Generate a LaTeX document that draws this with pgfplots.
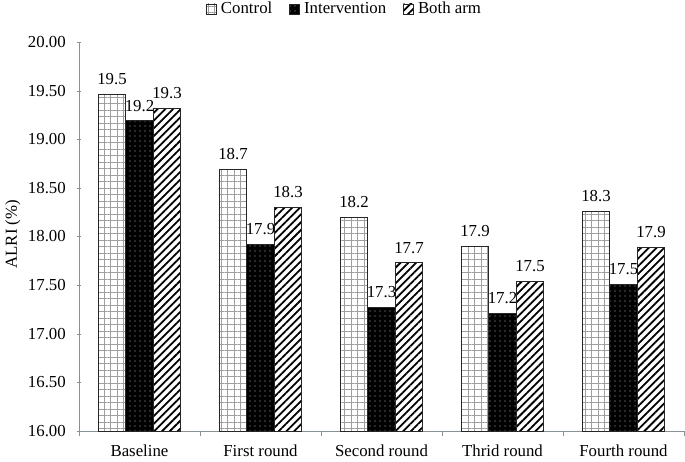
\documentclass[border=0pt]{standalone}
\usepackage{pgfplots}
\pgfplotsset{compat=1.18}
\usepackage{fontspec}
\setmainfont{Liberation Serif}
\usetikzlibrary{patterns.meta}
\definecolor{axgray}{RGB}{135,145,150}
\begin{document}
\fontsize{16.8bp}{20bp}\selectfont
\begin{tikzpicture}
\begin{axis}[
  name=ax,
  scale only axis,
  width=605bp, height=389bp,
  ymin=16, ymax=20,
  ytick={16,16.5,...,20},
  xmin=-0.5, xmax=4.5,
  xtick={0,1,2,3,4},
  xticklabels={Baseline,First round,Second round,Thrid round,Fourth round},
  minor xtick={-0.5,0.5,1.5,2.5,3.5,4.5},
  major x tick style={draw=none},
  minor x tick style={axgray},
  tick align=outside,
  major tick length=4bp,
  minor tick length=5bp,
  axis lines=left,
  axis line style={-, axgray, line width=0.8pt},
  ytick style={axgray},
  xticklabel style={anchor=base, inner sep=0pt},
  xticklabel shift=21.5bp,
  yticklabel style={anchor=east, inner sep=0pt, /pgf/number format/fixed, /pgf/number format/fixed zerofill, /pgf/number format/precision=2, /pgf/number format/assume math mode=true},
  yticklabel shift=11bp,
  ylabel={ALRI (\%)},
  every axis y label/.style={at={(axis description cs:-0.1025,0.506)}, anchor=base, rotate=90, inner sep=0pt},
  ybar,
  bar width=0.227,
  nodes near coords,
  nodes near coords style={/pgf/number format/fixed, /pgf/number format/fixed zerofill, /pgf/number format/precision=1, /pgf/number format/assume math mode=true, inner sep=0pt, anchor=south, yshift=9bp},
  legend style={draw=none, at={(axis description cs:0.2099,1.085)}, anchor=west, legend columns=-1,
    inner sep=0pt, nodes={inner sep=0pt},
    /tikz/every even column/.append style={column sep=17bp},
    /tikz/every odd column/.append style={column sep=4bp}},
  area legend,
  legend image code/.code={\draw[#1, line width=0.8pt] (0bp,-5bp) rectangle (10bp,5bp);},
]
\addplot[bar shift=-0.227, draw=black!85, line width=1pt, fill=white,
  postaction={pattern={Hatch[angle=0,distance=6.5bp,line width=0.7pt]}, pattern color=gray!75}]
  coordinates {(0,19.46) (1,18.69) (2,18.20) (3,17.90) (4,18.26)};
\addplot[bar shift=0, draw=black!85, line width=1pt, fill=black,
  postaction={pattern={Dots[distance=5bp,radius=0.55pt]}, pattern color=gray!60}]
  coordinates {(0,19.19) (1,17.92) (2,17.27) (3,17.21) (4,17.51)};
\addplot[bar shift=0.227, draw=black!85, line width=1pt, fill=white,
  postaction={pattern={Lines[angle=45,distance=5.5bp,line width=1.8pt]}, pattern color=black}]
  coordinates {(0,19.32) (1,18.30) (2,17.73) (3,17.54) (4,17.89)};
\legend{Control,Intervention,Both arm}
\end{axis}
\pgfresetboundingbox
\path[use as bounding box] ([xshift=-79bp,yshift=-30bp]ax.south west) rectangle ([xshift=1bp,yshift=42bp]ax.north east);
\end{tikzpicture}
\end{document}
